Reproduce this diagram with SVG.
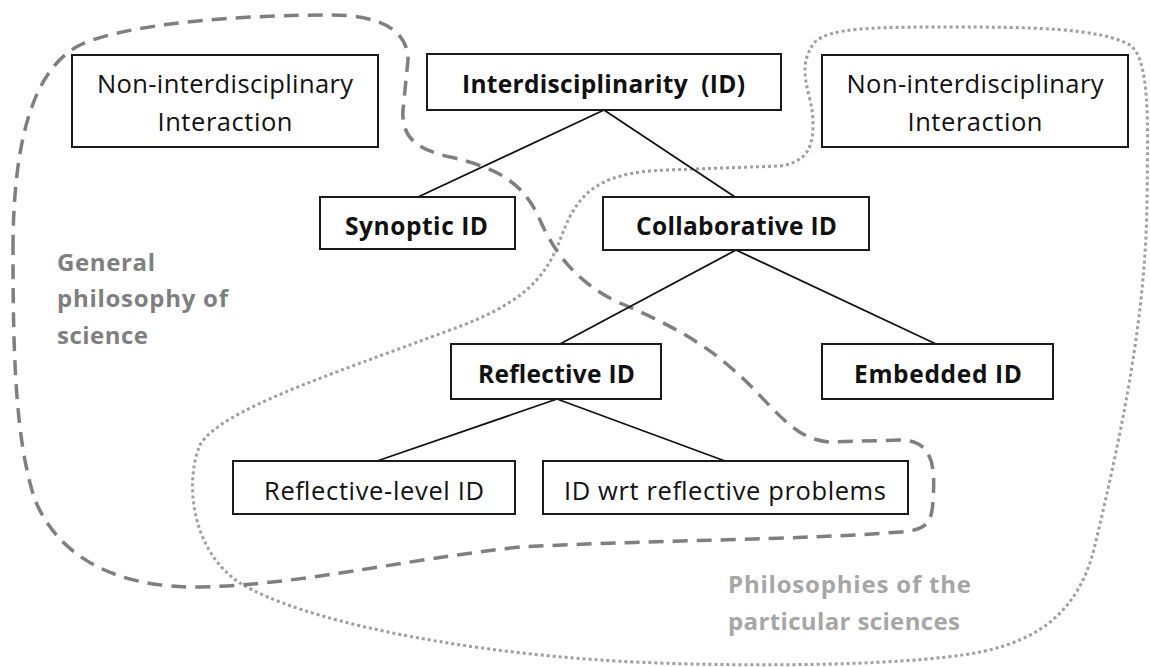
<svg xmlns="http://www.w3.org/2000/svg" width="1150" height="667" viewBox="0 0 1150 667">
<style>
.box{fill:#fff;stroke:#1a1a1a;stroke-width:2}
.t{font-family:"Open Sans","Noto Sans","Liberation Sans",sans-serif;font-size:25.5px;fill:#111;text-anchor:middle}
.b{font-weight:bold;font-size:24.5px}
.edge{stroke:#111;stroke-width:1.8;fill:none}
.dash{fill:none;stroke:#7f7f7f;stroke-width:3.5;stroke-dasharray:15 9}
.dot{fill:none;stroke:#9f9f9f;stroke-width:3;stroke-dasharray:3 3}
.lab{font-family:"Open Sans","Noto Sans","Liberation Sans",sans-serif;font-weight:bold;font-size:24px}
</style>
<rect width="1150" height="667" fill="#fff"/>
<g id="regions">
<path class="dot" d="M 810,100 C 805,80 800,60 815,42 C 830,28 870,27 950,27 C 1030,27 1100,28 1130,45 C 1150,60 1148,120 1147,200 C 1146,320 1120,440 1095,545 C 1080,610 1040,640 980,652 C 900,668 700,667 600,660 C 450,650 300,620 240,583 C 190,550 185,480 200,445 C 220,410 330,375 450,330 C 520,305 545,280 560,240 C 575,200 590,172 667,170 L 780,166 C 805,162 813,150 813,125 C 813,115 812,108 810,100 Z"/>
<path class="dash" d="M 13,250 C 13,150 30,70 80,45 C 130,22 250,15 330,15 C 380,15 408,30 408,60 L 403,110 C 401,140 420,150 450,157 C 500,168 525,185 540,220 C 555,255 580,285 620,303 C 660,320 700,340 730,367 C 770,400 790,440 830,442 L 900,440 C 935,440 935,470 933,500 C 932,525 925,530 900,532 C 800,540 650,540 520,547 C 400,560 300,585 200,587 C 120,588 60,560 35,500 C 15,440 13,350 13,250 Z"/>
<text class="lab" fill="#7f7f7f" x="57" y="271" textLength="98">General</text>
<text class="lab" fill="#7f7f7f" x="57" y="307" textLength="171">philosophy of</text>
<text class="lab" fill="#7f7f7f" x="57" y="344" textLength="91">science</text>
<text class="lab" fill="#a6a6a6" x="728" y="593" textLength="243">Philosophies of the</text>
<text class="lab" fill="#a6a6a6" x="728" y="630" textLength="232">particular sciences</text>
</g>
<g id="connectors">
<line class="edge" x1="604" y1="110" x2="418" y2="197"/>
<line class="edge" x1="604" y1="110" x2="735" y2="197"/>
<line class="edge" x1="736" y1="250" x2="560" y2="344"/>
<line class="edge" x1="736" y1="250" x2="936" y2="344"/>
<line class="edge" x1="557" y1="399" x2="377" y2="461"/>
<line class="edge" x1="557" y1="399" x2="725" y2="461"/>
</g>
<g id="ni-left">
<rect class="box" x="72" y="55" width="306" height="92"/>
<text class="t" x="225" y="93" textLength="256">Non-interdisciplinary</text>
<text class="t" x="225" y="131" textLength="135">Interaction</text>
</g>
<g id="id-root">
<rect class="box" x="427" y="54" width="354" height="56"/>
<text class="t b" x="603.5" y="93" textLength="283" xml:space="preserve">Interdisciplinarity  (ID)</text>
</g>
<g id="ni-right">
<rect class="box" x="822" y="55" width="306" height="92"/>
<text class="t" x="975" y="93" textLength="257">Non-interdisciplinary</text>
<text class="t" x="975" y="131" textLength="135">Interaction</text>
</g>
<g id="synoptic">
<rect class="box" x="320" y="197" width="195" height="52"/>
<text class="t b" x="416.5" y="235" textLength="143">Synoptic ID</text>
</g>
<g id="collaborative">
<rect class="box" x="603" y="197" width="266" height="53"/>
<text class="t b" x="736.5" y="235" textLength="201">Collaborative ID</text>
</g>
<g id="reflective">
<rect class="box" x="451" y="344" width="210" height="55"/>
<text class="t b" x="556.5" y="383" textLength="157">Reflective ID</text>
</g>
<g id="embedded">
<rect class="box" x="822" y="344" width="231" height="55"/>
<text class="t b" x="938" y="383" textLength="168">Embedded ID</text>
</g>
<g id="reflective-level">
<rect class="box" x="233" y="461" width="282" height="53"/>
<text class="t" x="374" y="500" textLength="220">Reflective-level ID</text>
</g>
<g id="wrt-problems">
<rect class="box" x="543" y="461" width="365" height="53"/>
<text class="t" x="725" y="500" textLength="322">ID wrt reflective problems</text>
</g>
</svg>
